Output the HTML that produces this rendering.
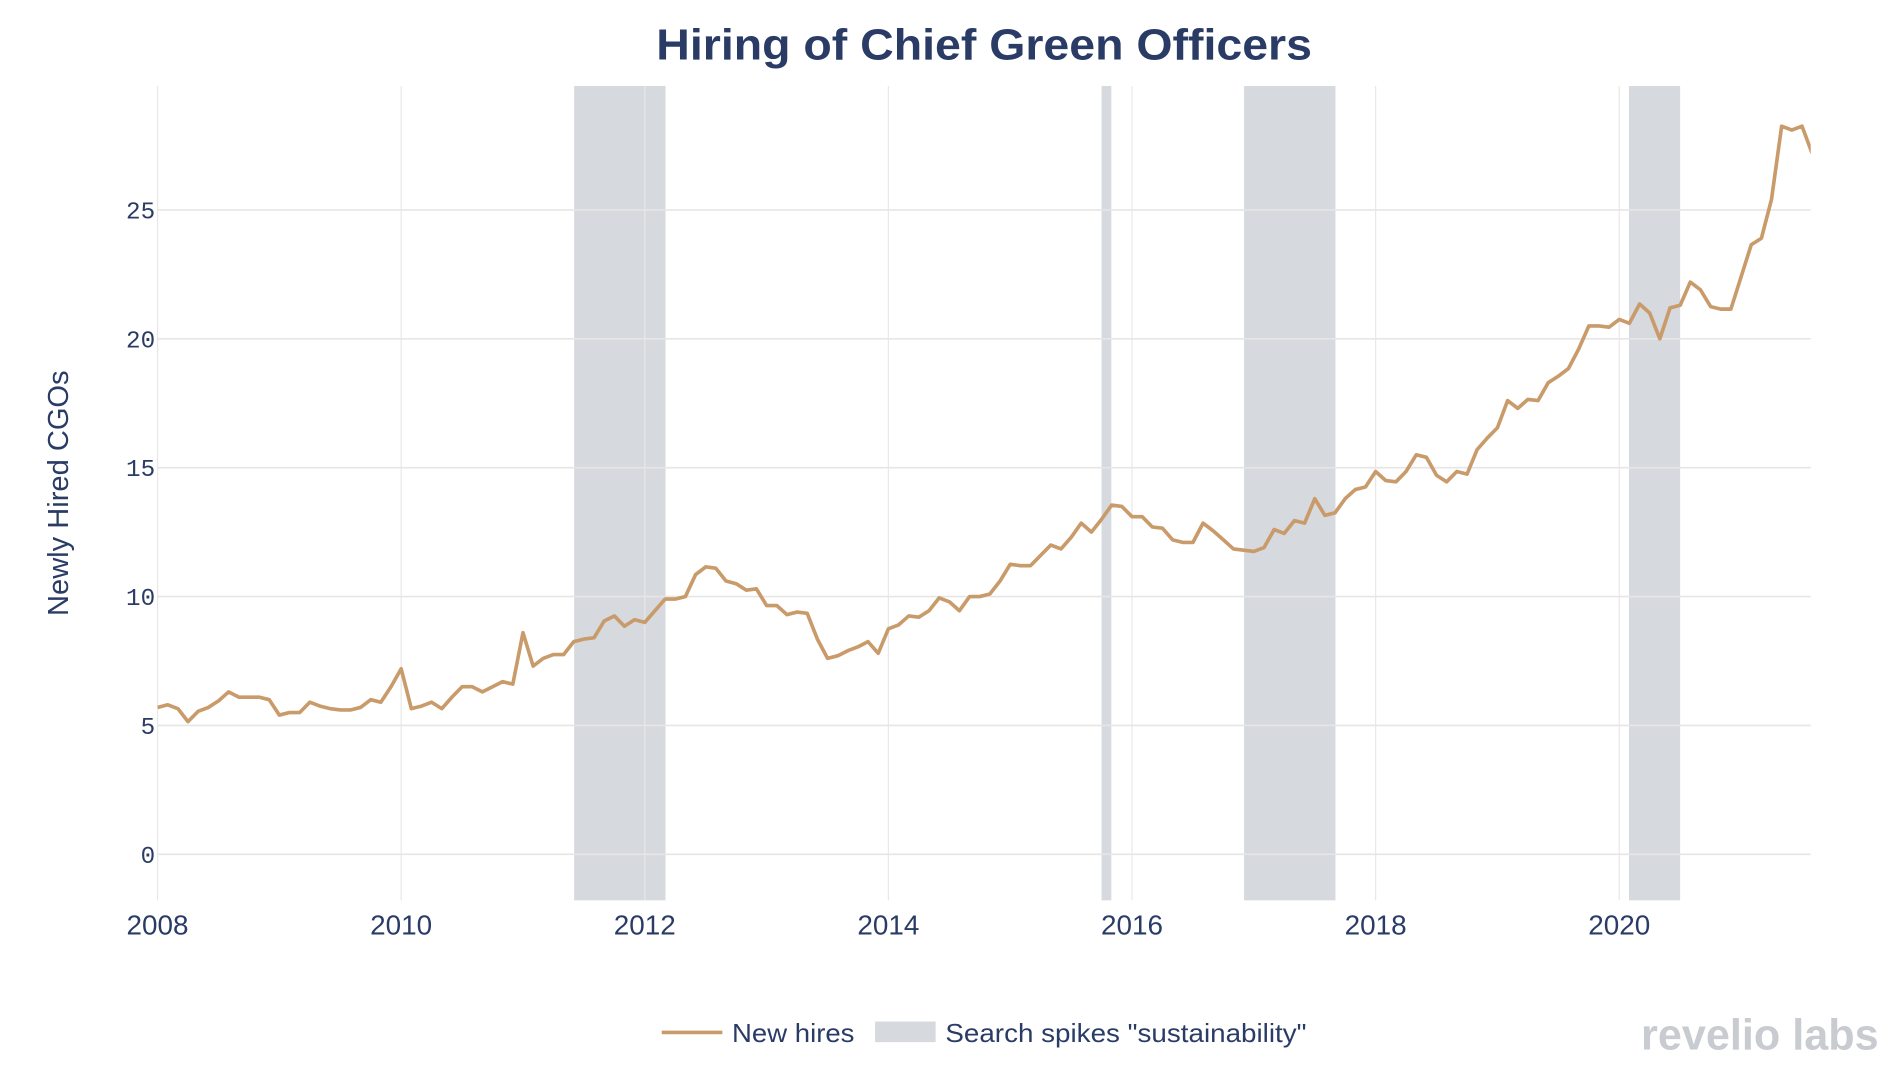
<!DOCTYPE html>
<html><head><meta charset="utf-8"><style>
html,body{margin:0;padding:0;background:#fff;width:1898px;height:1070px;overflow:hidden}
svg{display:block}
</style></head><body>
<svg id="chart" width="1898" height="1070" viewBox="0 0 1566 883" preserveAspectRatio="none" xmlns="http://www.w3.org/2000/svg">
<text x="812" y="49" text-anchor="middle" textLength="541" lengthAdjust="spacingAndGlyphs" font-family="Liberation Sans, sans-serif" font-weight="bold" font-size="36" fill="#2a3c66">Hiring of Chief Green Officers</text>
<text transform="translate(56,407) rotate(-90)" text-anchor="middle" font-family="Liberation Sans, sans-serif" font-size="24" fill="#2a3c66">Newly Hired CGOs</text>
<g id="shades"></g><g id="grid"></g><g id="ticks"></g>
<defs><clipPath id="clip"><rect x="130" y="60" width="1364" height="690"/></clipPath></defs>
<path id="line" fill="none" stroke="#c99a6a" stroke-width="3" stroke-linejoin="round" clip-path="url(#clip)"/>
<g>
<line x1="546" y1="852" x2="596" y2="852" stroke="#c99a6a" stroke-width="3"/>
<text x="604" y="860" textLength="101" lengthAdjust="spacingAndGlyphs" font-family="Liberation Sans, sans-serif" font-size="21" fill="#2a3c66">New hires</text>
<rect x="722" y="843" width="50" height="17" fill="#d6d9dd"/>
<text x="780" y="860" textLength="298" lengthAdjust="spacingAndGlyphs" font-family="Liberation Sans, sans-serif" font-size="21" fill="#2a3c66">Search spikes "sustainability"</text>
</g>
<text x="1550" y="866" text-anchor="end" textLength="196" lengthAdjust="spacingAndGlyphs" font-family="Liberation Sans, sans-serif" font-weight="bold" font-size="36" fill="#c8cbd0">revelio labs</text>
</svg>
<script>
const years=[2008,2009,2010,2011,2012,2013,2014,2015,2016,2017,2018,2019,2020,2021];
const hires=[5.7,5.8,5.65,5.15,5.55,5.7,5.95,6.3,6.1,6.1,6.1,6.0,
5.4,5.5,5.5,5.9,5.75,5.65,5.6,5.6,5.7,6.0,5.9,6.5,
7.2,5.65,5.75,5.9,5.65,6.1,6.5,6.5,6.3,6.5,6.7,6.6,
8.6,7.3,7.6,7.75,7.75,8.25,8.35,8.4,9.05,9.25,8.85,9.1,
9.0,9.45,9.9,9.9,10.0,10.85,11.15,11.1,10.6,10.5,10.25,10.3,
9.65,9.65,9.3,9.4,9.35,8.35,7.6,7.7,7.9,8.05,8.25,7.8,
8.75,8.9,9.25,9.2,9.45,9.95,9.8,9.45,10.0,10.0,10.1,10.6,
11.25,11.2,11.2,11.6,12.0,11.85,12.3,12.85,12.5,13.0,13.55,13.5,
13.1,13.1,12.7,12.65,12.2,12.1,12.1,12.85,12.55,12.2,11.85,11.8,
11.75,11.9,12.6,12.45,12.95,12.85,13.8,13.15,13.25,13.8,14.15,14.25,
14.85,14.5,14.45,14.85,15.5,15.4,14.7,14.45,14.85,14.75,15.7,16.15,
16.55,17.6,17.3,17.65,17.6,18.3,18.55,18.85,19.6,20.5,20.5,20.45,
20.75,20.6,21.35,21.0,20.0,21.2,21.3,22.2,21.9,21.25,21.15,21.15,
22.4,23.65,23.9,25.4,28.25,28.1,28.25,27.2];
const spikeStarts=[2011.42,2015.75,2016.92,2020.08];
const spikeEnds=[2012.17,2015.83,2017.67,2020.5];
const yTicks=[0,5,10,15,20,25];
const xTicks=[2008,2010,2012,2014,2016,2018,2020];
const X=v=>130+(v-2008)*100.5, Y=v=>705-v*21.27;
const NS='http://www.w3.org/2000/svg';
function mk(t,a,p){const e=document.createElementNS(NS,t);for(const k in a)e.setAttribute(k,a[k]);p.appendChild(e);return e;}
const sh=document.getElementById('shades'),gr=document.getElementById('grid'),tk=document.getElementById('ticks');
for(let i=0;i<spikeStarts.length;i++){
 const r=mk('rect',{x:X(spikeStarts[i]),y:71,width:X(spikeEnds[i])-X(spikeStarts[i]),height:672,fill:'#d6d9dd'},sh);
 
 
}
xTicks.forEach(v=>{
 const l=mk('line',{x1:X(v),x2:X(v),y1:71,y2:743,stroke:'#e8e8e8','stroke-width':1},gr);
 
 
});
yTicks.forEach(v=>{
 const l=mk('line',{x1:130,x2:1494,y1:Y(v),y2:Y(v),stroke:'#e6e6e6','stroke-width':1.3},gr);
 
 
 const t=mk('text',{x:128,y:Y(v)+7,'text-anchor':'end','font-family':'Liberation Mono, monospace','font-size':20,fill:'#2a3c66'},tk);
 t.textContent=String(v);
 
 
});
xTicks.forEach(v=>{
 const t=mk('text',{x:X(v),y:771,'text-anchor':'middle','font-family':'Liberation Sans, sans-serif','font-size':23,fill:'#2a3c66'},tk);
 t.textContent=String(v);
 
 
});
let d='';
hires.forEach((v,i)=>{d+=(i?'L':'M')+X(years[0]+i/12).toFixed(1)+','+Y(v).toFixed(1);});
document.getElementById('line').setAttribute('d',d);
</script>
</body></html>
